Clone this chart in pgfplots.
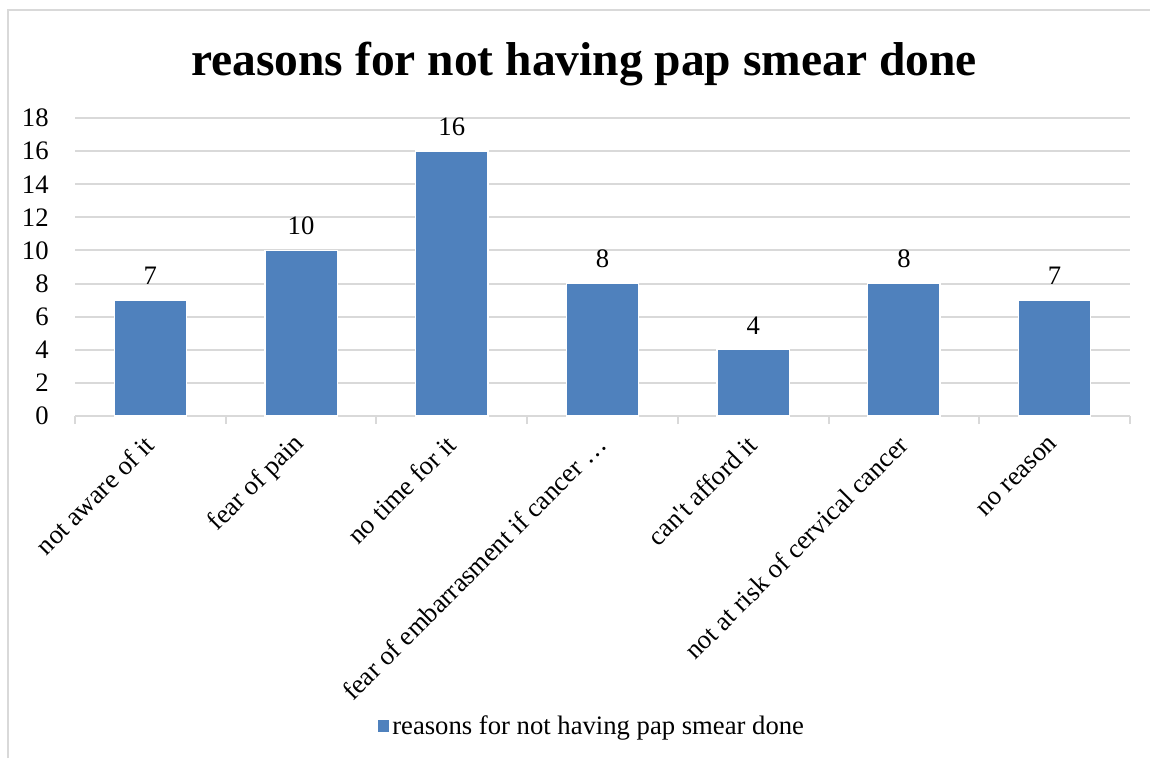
\documentclass[border=0pt]{standalone}
\usepackage{pgfplots}
\pgfplotsset{compat=1.18}
\usepackage{fontspec}
\setmainfont{Liberation Serif}
\definecolor{barblue}{HTML}{4F81BD}
\definecolor{gridgray}{HTML}{D9D9D9}
\newcommand{\lbl}{\fontsize{16pt}{19pt}\selectfont}

\pgfplotstableread{
idx value
0 7
1 10
2 16
3 8
4 4
5 8
6 7
}\reasons

\begin{document}
\begin{tikzpicture}
% canvas: 1 px = 0.6 pt, origin at top-left
\path[use as bounding box] (0,0) rectangle (690pt,-454.8pt);
\draw[gridgray, line width=1.2pt] (4.8pt,-454.8pt) -- (4.8pt,-6pt) -- (690pt,-6pt);

\node[anchor=base, font=\fontsize{28.5pt}{32pt}\selectfont\bfseries] at (350.4pt,-45.6pt)
  {reasons for not having pap smear done};

\begin{axis}[
  at={(45pt,-249.6pt)}, anchor=south west,
  scale only axis, width=633pt, height=178.8pt,
  xmin=-0.5, xmax=6.5, ymin=0, ymax=18,
  ytick={0,2,...,18},
  xtick={0,...,6},
  minor xtick={-0.5,0.5,...,6.5},
  xticklabels={not aware of it, fear of pain, no time for it,
    fear of embarrasment if cancer \dots, can\textquotesingle t afford it,
    not at risk of cervical cancer, no reason},
  axis x line*=bottom, axis y line*=left,
  x axis line style={draw=gridgray, line width=1.2pt, -},
  y axis line style={draw=none},
  ymajorgrids, grid style={draw=gridgray, line width=1.2pt},
  xtick style={draw=none}, ytick style={draw=none},
  minor x tick style={draw=gridgray, line width=1.2pt},
  tick align=outside, minor tick length=4.8pt,
  /pgf/number format/assume math mode=true,
  yticklabel style={font=\lbl, xshift=-8pt},
  xticklabel style={font=\lbl, rotate=45, anchor=east, xshift=-4.1pt, yshift=-6.9pt},
  bar width=0.48,
  nodes near coords,
  every node near coord/.append style={font=\lbl, anchor=south, inner sep=0pt, yshift=9pt},
  legend style={at={(0.5,-1.04)}, anchor=center, draw=none, font=\lbl, xshift=-6pt},
  legend image code/.code={\fill[barblue] (-1.5pt,-3pt) rectangle (4.5pt,3pt);},
]
\addplot[ybar, fill=barblue, draw=white, line width=0.8pt] table[x=idx, y=value] {\reasons};
\addlegendentry{reasons for not having pap smear done}
\end{axis}
\end{tikzpicture}
\end{document}
